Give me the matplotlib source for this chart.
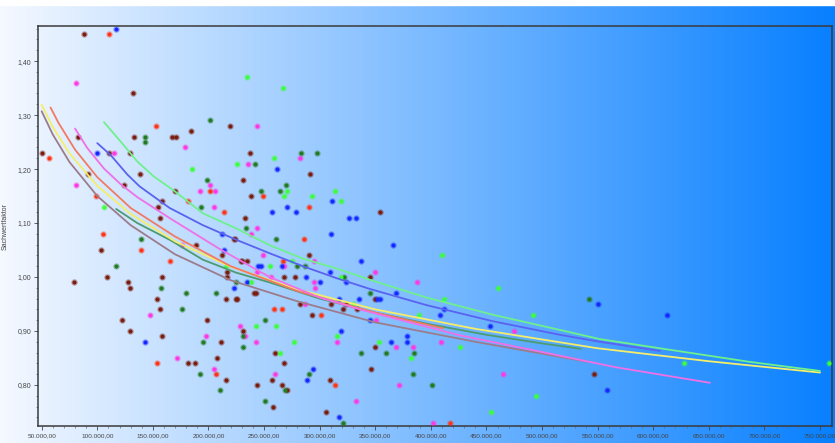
import numpy as np
import matplotlib
matplotlib.use('Agg')
import matplotlib.pyplot as plt
from matplotlib.ticker import FuncFormatter, MultipleLocator

# Streupunkte (Kaufpreis/Sachwert, Sachwertfaktor), nach Farbe gruppiert
maroon_x = [88000, 132000, 219000, 184000, 83000, 133000, 167000, 171000, 50000, 111000,
            129000, 237000, 92000, 138000, 291000, 231000, 124000, 170000, 238000, 158000,
            155000, 354000, 156000, 233000, 79000, 103000, 109000, 122000, 128000, 129000,
            129000, 154000, 156000, 158000, 158000, 182000, 188000, 189000, 199000, 208000,
            211000, 212000, 216000, 216000, 217000, 217000, 223000, 224000, 225000, 226000,
            229000, 230000, 235000, 231000, 241000, 243000, 244000, 258000, 257000, 260000,
            266000, 268000, 268000, 271000, 278000, 290000, 282000, 293000, 309000, 306000,
            310000, 321000, 324000, 334000, 345000, 350000, 346000, 350000, 547000]
maroon_y = [1.45, 1.34, 1.28, 1.27, 1.26, 1.26, 1.26, 1.26, 1.23, 1.23,
            1.23, 1.23, 1.19, 1.19, 1.19, 1.18, 1.17, 1.16, 1.15, 1.14,
            1.13, 1.12, 1.11, 1.11, 0.99, 1.05, 1.00, 0.92, 0.99, 0.98,
            0.90, 0.96, 0.94, 0.89, 1.00, 0.84, 0.84, 1.06, 0.92, 0.85,
            0.88, 1.04, 0.96, 0.81, 1.01, 1.00, 1.07, 1.07, 0.96, 0.96,
            1.03, 1.03, 1.03, 0.90, 0.97, 0.97, 0.80, 0.76, 0.81, 0.86,
            0.80, 1.00, 0.84, 0.79, 1.00, 1.04, 0.95, 0.93, 0.81, 0.75,
            0.95, 0.94, 0.95, 0.94, 1.00, 0.96, 0.83, 0.87, 0.82]

red_x = [111000, 153000, 57000, 201000, 99000, 249000, 182000, 290000, 214000, 105000,
         139000, 154000, 165000, 207000, 259000, 266000, 267000, 286000, 301000, 314000,
         417000]
red_y = [1.45, 1.28, 1.22, 1.16, 1.15, 1.15, 1.14, 1.13, 1.12, 1.08,
         1.05, 0.84, 1.03, 0.82, 0.94, 0.94, 1.03, 1.07, 0.93, 0.80,
         0.73]

magenta_x = [81000, 244000, 179000, 115000, 282000, 236000, 81000, 201000, 192000, 206000,
             205000, 147000, 172000, 176000, 198000, 205000, 228000, 233000, 238000, 244000,
             243000, 244000, 249000, 256000, 260000, 268000, 287000, 295000, 295000, 296000,
             316000, 333000, 350000, 351000, 369000, 371000, 384000, 388000, 475000, 409000,
             465000, 402000]
magenta_y = [1.36, 1.28, 1.24, 1.23, 1.22, 1.21, 1.17, 1.17, 1.16, 1.16,
             1.13, 0.93, 0.85, 1.06, 0.89, 0.83, 0.91, 0.89, 1.08, 1.09,
             0.88, 1.01, 1.04, 1.00, 0.82, 1.02, 0.95, 1.03, 0.99, 0.98,
             0.88, 0.77, 1.01, 0.92, 0.87, 0.80, 0.87, 0.99, 0.90, 0.88,
             0.82, 0.73]

blue_x = [117000, 100000, 262000, 271000, 311000, 257000, 279000, 326000, 333000, 143000,
          212000, 214000, 223000, 235000, 245000, 247000, 266000, 288000, 300000, 294000,
          289000, 309000, 310000, 317000, 319000, 317000, 324000, 335000, 337000, 352000,
          354000, 345000, 364000, 366000, 369000, 379000, 379000, 550000, 612000, 412000,
          408000, 453000, 558000]
blue_y = [1.46, 1.23, 1.20, 1.13, 1.14, 1.12, 1.12, 1.11, 1.11, 0.88,
          1.08, 1.05, 0.98, 0.99, 1.02, 1.02, 1.02, 1.00, 0.99, 0.83,
          0.81, 1.01, 1.08, 0.96, 0.90, 0.74, 0.99, 0.96, 1.03, 0.96,
          0.96, 0.92, 0.88, 1.06, 0.97, 0.89, 0.88, 0.95, 0.93, 0.94,
          0.93, 0.91, 0.79]

dkgreen_x = [201000, 143000, 143000, 283000, 298000, 242000, 199000, 270000, 247000, 264000,
             193000, 117000, 139000, 157000, 176000, 180000, 192000, 195000, 207000, 210000,
             225000, 231000, 231000, 234000, 251000, 261000, 269000, 280000, 287000, 290000,
             321000, 322000, 337000, 345000, 360000, 384000, 385000, 542000, 401000, 251000]
dkgreen_y = [1.29, 1.26, 1.25, 1.23, 1.23, 1.21, 1.18, 1.17, 1.16, 1.16,
             1.13, 1.02, 1.07, 0.98, 0.94, 0.97, 0.82, 0.88, 0.97, 0.79,
             0.99, 0.89, 0.87, 1.09, 0.92, 1.07, 0.79, 1.02, 1.02, 0.82,
             0.73, 1.00, 0.86, 0.97, 0.86, 0.82, 0.86, 0.96, 0.80, 0.77]

lime_x = [235000, 267000, 226000, 259000, 185000, 271000, 314000, 268000, 293000, 319000,
          106000, 216000, 238000, 243000, 255000, 261000, 264000, 275000, 277000, 316000,
          319000, 330000, 353000, 382000, 389000, 410000, 460000, 412000, 492000, 426000,
          628000, 758000, 495000, 454000]
lime_y = [1.37, 1.35, 1.21, 1.22, 1.20, 1.16, 1.16, 1.15, 1.15, 1.14,
          1.13, 1.02, 0.99, 0.91, 1.02, 0.91, 0.86, 1.03, 0.88, 0.89,
          1.00, 0.95, 0.88, 0.85, 0.93, 1.04, 0.98, 0.96, 0.93, 0.87,
          0.84, 0.84, 0.78, 0.75]

# Regressionskurven
grau_x = [50000, 60000, 75000, 100000, 130000, 170000, 220000, 280000, 350000, 440000, 541000]
grau_y = [1.307, 1.264, 1.213, 1.150, 1.096, 1.042, 0.994, 0.955, 0.916, 0.880, 0.843]

gelb_x = [50000, 60000, 75000, 100000, 130000, 170000, 220000, 280000, 350000, 440000,
          550000, 650000, 750000]
gelb_y = [1.319, 1.278, 1.229, 1.169, 1.117, 1.066, 1.019, 0.977, 0.940, 0.904,
          0.868, 0.844, 0.823]

lachs_x = [58000, 65000, 80000, 100000, 130000, 170000, 220000, 280000, 350000, 411000]
lachs_y = [1.314, 1.286, 1.236, 1.185, 1.128, 1.075, 1.020, 0.974, 0.934, 0.905]

pink_x = [80000, 91000, 106000, 121000, 136000, 166000, 210000, 255000, 300000, 336000,
          426000, 486000, 566000, 651000]
pink_y = [1.275, 1.239, 1.201, 1.172, 1.148, 1.108, 1.052, 1.000, 0.962, 0.940,
          0.892, 0.867, 0.833, 0.804]

blau_x = [100000, 112000, 127000, 138000, 165000, 195000, 225000, 255000, 285000, 315000,
          345000, 396000, 456000, 516000, 552000, 606000]
blau_y = [1.248, 1.226, 1.190, 1.168, 1.128, 1.096, 1.069, 1.044, 1.020, 0.998,
          0.978, 0.948, 0.918, 0.893, 0.880, 0.863]

hellgruen_x = [106000, 121000, 136000, 151000, 169000, 195000, 225000, 255000, 285000, 315000,
               345000, 396000, 456000, 516000, 552000, 606000, 686000, 750000]
hellgruen_y = [1.287, 1.251, 1.214, 1.186, 1.160, 1.118, 1.090, 1.059, 1.034, 1.016,
               0.995, 0.962, 0.930, 0.902, 0.885, 0.868, 0.843, 0.826]

gruen_x = [117000, 136000, 151000, 166000, 195000, 225000, 255000, 300000, 350000, 400000,
           450000, 500000, 535000]
gruen_y = [1.126, 1.100, 1.084, 1.068, 1.032, 1.008, 0.990, 0.960, 0.934, 0.912,
           0.893, 0.877, 0.867]

fig = plt.figure(figsize=(8.35, 4.43), dpi=100)

# Hintergrund: Verlauf weiss -> blau ueber die ganze Abbildung
bg = fig.add_axes([0, 0, 1, 1], zorder=-10)
t = np.linspace(0, 1, 512)
links = np.array([0.96, 0.975, 1.0])
rechts = np.array([0.03, 0.50, 1.0])
verlauf = links[None, :] * (1 - t[:, None]) + rechts[None, :] * t[:, None]
bg.imshow(verlauf[None, :, :], aspect='auto', extent=[0, 1, 0, 1])
bg.axhspan(0.988, 1.0, color='white')
bg.set_xlim(0, 1)
bg.set_ylim(0, 1)
bg.axis('off')

ax = fig.add_axes([38 / 835, 17 / 443, 794 / 835, 400 / 443])
ax.patch.set_alpha(0)

punkte = [
    (maroon_x, maroon_y, '#7a1c0e'),
    (red_x, red_y, '#ff3414'),
    (magenta_x, magenta_y, '#ff38e4'),
    (blue_x, blue_y, '#1428ff'),
    (dkgreen_x, dkgreen_y, '#237a23'),
    (lime_x, lime_y, '#3cff3c'),
]
for xs, ys, c in punkte:
    ax.scatter(xs, ys, s=22, color=c, alpha=0.35, linewidths=0, zorder=2)
    ax.scatter(xs, ys, s=9, color=c, linewidths=0, zorder=3)

kurven = [
    (grau_x, grau_y, '#9c7c8c'),
    (gruen_x, gruen_y, '#4c9c70'),
    (gelb_x, gelb_y, '#f4ee6a'),
    (lachs_x, lachs_y, '#f27a62'),
    (pink_x, pink_y, '#f070e8'),
    (blau_x, blau_y, '#5a62f0'),
    (hellgruen_x, hellgruen_y, '#6ef08c'),
]
for xs, ys, c in kurven:
    ax.plot(xs, ys, color=c, lw=1.3, solid_capstyle='round', zorder=4)

ax.set_xlim(46700, 760800)
ax.set_ylim(0.724, 1.465)

ax.xaxis.set_major_locator(MultipleLocator(50000))
ax.xaxis.set_minor_locator(MultipleLocator(10000))
ax.yaxis.set_major_locator(MultipleLocator(0.1))
ax.yaxis.set_minor_locator(MultipleLocator(0.02))


def de_x(v, pos):
    s = f'{v:,.2f}'
    return s.replace(',', '#').replace('.', ',').replace('#', '.')


def de_y(v, pos):
    return f'{v:.2f}'.replace('.', ',')


ax.xaxis.set_major_formatter(FuncFormatter(de_x))
ax.yaxis.set_major_formatter(FuncFormatter(de_y))
ax.tick_params(which='major', labelsize=5, colors='#444444', length=3, width=0.6, pad=2)
ax.tick_params(axis='x', which='major', labelsize=4.6)
ax.tick_params(which='minor', colors='#666666', length=1.5, width=0.5)
for lab in ax.get_xticklabels() + ax.get_yticklabels():
    lab.set_family('Liberation Sans')

for sp in ax.spines.values():
    sp.set_color('#3a3a3a')
    sp.set_linewidth(1.1)

ax.set_ylabel('Sachwertfaktor', fontsize=5, color='#444444', family='Liberation Sans', labelpad=6)

fig.savefig('out.png', dpi=100)
